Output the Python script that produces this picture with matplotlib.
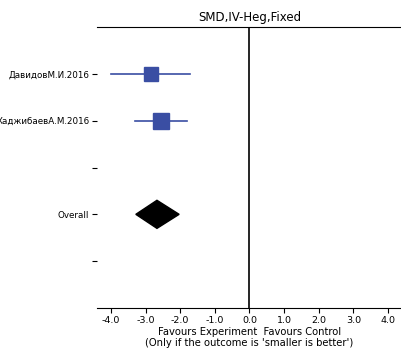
import matplotlib
matplotlib.use("Agg")
import matplotlib.pyplot as plt
from matplotlib.patches import Polygon

labels = ["ДавидовМ.И.2016", "ХаджибаевА.М.2016", "", "Overall", ""]
study_names = ["ДавидовМ.И.2016", "ХаджибаевА.М.2016"]
smd = [-2.84, -2.55]
ci_low = [-4.00, -3.30]
ci_high = [-1.71, -1.80]
weights = [0.35, 0.65]
overall = -2.67
overall_low = -3.28
overall_high = -2.03
xticks = [-4.0, -3.0, -2.0, -1.0, 0.0, 1.0, 2.0, 3.0, 4.0]

fig = plt.figure(figsize=(4.02, 3.49), dpi=100)
ax = fig.add_axes([97/402, 1 - 308/349, 305/402, (308 - 27)/349])

color = "#3A4EA3"
for i in range(len(study_names)):
    ax.plot([ci_low[i], ci_high[i]], [i, i], color=color, lw=1.2, zorder=2)
    ms = 7 + 8 * weights[i]
    ax.plot(smd[i], i, marker="s", ms=ms, color=color, mec=color, zorder=3)

oy = labels.index("Overall")
diamond = Polygon([[overall_low, oy], [overall, oy - 0.3], [overall_high, oy], [overall, oy + 0.3]],
                  closed=True, color="black", zorder=3)
ax.add_patch(diamond)

ax.axvline(0, color="black", lw=1.2, zorder=1)
ax.set_xlim(-4.4, 4.4)
ax.set_ylim(len(labels), -1)
ax.set_yticks(range(len(labels)))
ax.set_yticklabels(labels, fontsize=6.3)
ax.tick_params(axis="y", pad=2, length=3.5)
ax.set_xticks(xticks)
ax.set_xticklabels([f"{t:.1f}" for t in xticks], fontsize=6.8)
ax.tick_params(axis="x", pad=2, length=3.5)
ax.spines["left"].set_visible(False)
ax.spines["right"].set_visible(False)
ax.set_title("SMD,IV-Heg,Fixed", fontsize=8.5, pad=4)
ax.set_xlabel("Favours Experiment  Favours Control\n(Only if the outcome is 'smaller is better')",
              fontsize=7.2, labelpad=2, linespacing=1.05)
fig.savefig("out.png", dpi=100)
